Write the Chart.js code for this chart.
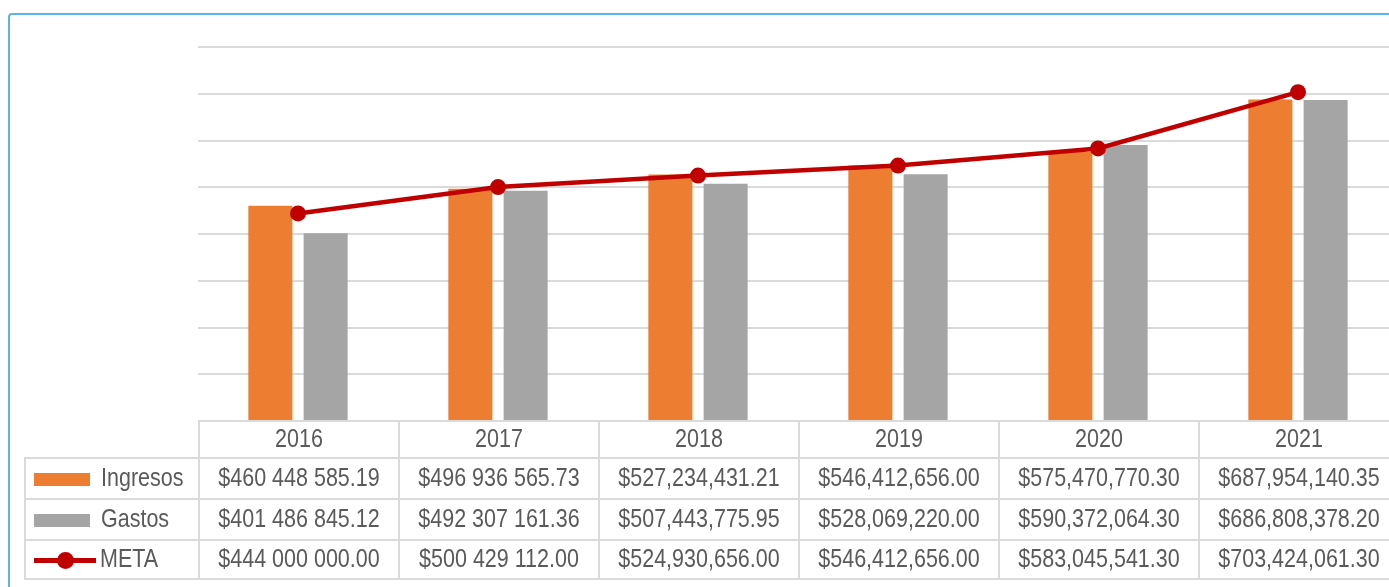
<!DOCTYPE html>
<html lang="es">
<head>
    <meta charset="UTF-8">
    <title>Ingresos vs Gastos</title>
    <script src="https://cdn.jsdelivr.net/npm/chart.js"></script>
    <style>
        body {
            margin: 0;
            width: 1389px;
            height: 587px;
            overflow: hidden;
            background: #fff;
            position: relative;
            font-family: "Liberation Sans", Arial, sans-serif;
        }
        .marco {
            position: absolute;
            left: 8px;
            top: 13px;
            width: 1500px;
            height: 700px;
            border: 2px solid #5db3e8;
            border-radius: 4px;
        }
        #grafico {
            position: absolute;
            left: 0;
            top: 0;
        }
        #tabla {
            position: absolute;
            left: 24px;
            top: 420px;
            width: 1376px;
            border-collapse: collapse;
            table-layout: fixed;
            color: #5a5a5a;
            font-size: 21.5px;
        }
        #tabla td {
            border: 2px solid #dadada;
            text-align: center;
            padding: 0;
            white-space: nowrap;
            overflow: hidden;
        }
        #tabla td.vacio { border: none; }
        #tabla td.leyenda { text-align: left; padding-left: 8px; }
        .t { display: inline-block; transform: scaleY(1.18); }
        .caja { display: inline-block; width: 56px; height: 13px; margin-right: 11px; vertical-align: middle; }
        .linea { display: inline-block; position: relative; width: 62px; height: 17px; margin-right: 4px; vertical-align: middle; }
        .linea::before { content: ""; position: absolute; left: 0; right: 0; top: 6px; height: 5px; background: #c00000; }
        .linea::after { content: ""; position: absolute; left: 23px; top: 0; width: 17px; height: 17px; border-radius: 50%; background: #c00000; }
    </style>
</head>
<body>
    <div class="marco"></div>
    <canvas id="grafico" width="1410" height="423"></canvas>
    <table id="tabla"></table>

<script>
    const anos = ['2016', '2017', '2018', '2019', '2020', '2021'];
    const ingresos = [460448585.19, 496936565.73, 527234431.21, 546412656.00, 575470770.30, 687954140.35];
    const gastos = [401486845.12, 492307161.36, 507443775.95, 528069220.00, 590372064.30, 686808378.20];
    const meta = [444000000.00, 500429112.00, 524930656.00, 546412656.00, 583045541.30, 703424061.30];
    // separador de miles usado en cada columna de la tabla
    const separadores = [' ', ' ', ',', ',', ',', ','];

    const naranja = '#ed7d31';
    const gris = '#a5a5a5';
    const rojo = '#c00000';

    const data = {
        labels: anos,
        datasets: [
            {
                type: 'line',
                label: 'META',
                data: meta,
                borderColor: rojo,
                backgroundColor: rojo,
                borderWidth: 4.5,
                pointRadius: 8,
                pointBackgroundColor: rojo,
                pointBorderWidth: 0,
                tension: 0,
                order: 0
            },
            {
                type: 'bar',
                label: 'Ingresos',
                data: ingresos,
                backgroundColor: naranja,
                categoryPercentage: 0.553,
                barPercentage: 0.796,
                order: 1
            },
            {
                type: 'bar',
                label: 'Gastos',
                data: gastos,
                backgroundColor: gris,
                categoryPercentage: 0.553,
                barPercentage: 0.796,
                order: 1
            }
        ]
    };

    const config = {
        data: data,
        options: {
            responsive: false,
            animation: false,
            layout: { autoPadding: false, padding: { left: 198, right: 12, top: 47, bottom: 2 } },
            plugins: {
                legend: { display: false },
                tooltip: { enabled: false }
            },
            scales: {
                x: {
                    display: false,
                    offset: true
                },
                y: {
                    min: 0,
                    max: 800000000,
                    ticks: { display: false, stepSize: 100000000 },
                    grid: { color: '#dadada', lineWidth: 2, drawTicks: false },
                    border: { display: false },
                    afterFit: (escala) => { escala.width = 0; }
                }
            }
        }
    };

    const grafico = new Chart(document.getElementById('grafico'), config);

    function formatear(valor, sep) {
        let partes = valor.toFixed(2).split('.');
        let entero = partes[0].replace(/\B(?=(\d{3})+(?!\d))/g, sep);
        return '$' + entero + '.' + partes[1];
    }

    // tabla de datos bajo el grafico
    const tabla = document.getElementById('tabla');
    let html = '<colgroup><col style="width:174px">';
    for (let i = 0; i < anos.length; i++) html += '<col style="width:200px">';
    html += '</colgroup>';

    html += '<tr style="height:37px"><td class="vacio"></td>';
    for (let i = 0; i < anos.length; i++) {
        html += `<td><span class="t">${anos[i]}</span></td>`;
    }
    html += '</tr>';

    const filas = [
        { nombre: 'Ingresos', valores: ingresos, clave: `<span class="caja" style="background:${naranja}"></span>`, alto: 41 },
        { nombre: 'Gastos', valores: gastos, clave: `<span class="caja" style="background:${gris}"></span>`, alto: 41 },
        { nombre: 'META', valores: meta, clave: '<span class="linea"></span>', alto: 39 }
    ];
    for (let f of filas) {
        html += `<tr style="height:${f.alto}px"><td class="leyenda">${f.clave}<span class="t">${f.nombre}</span></td>`;
        for (let i = 0; i < f.valores.length; i++) {
            html += `<td><span class="t">${formatear(f.valores[i], separadores[i])}</span></td>`;
        }
        html += '</tr>';
    }
    tabla.innerHTML = html;
</script>
</body>
</html>
